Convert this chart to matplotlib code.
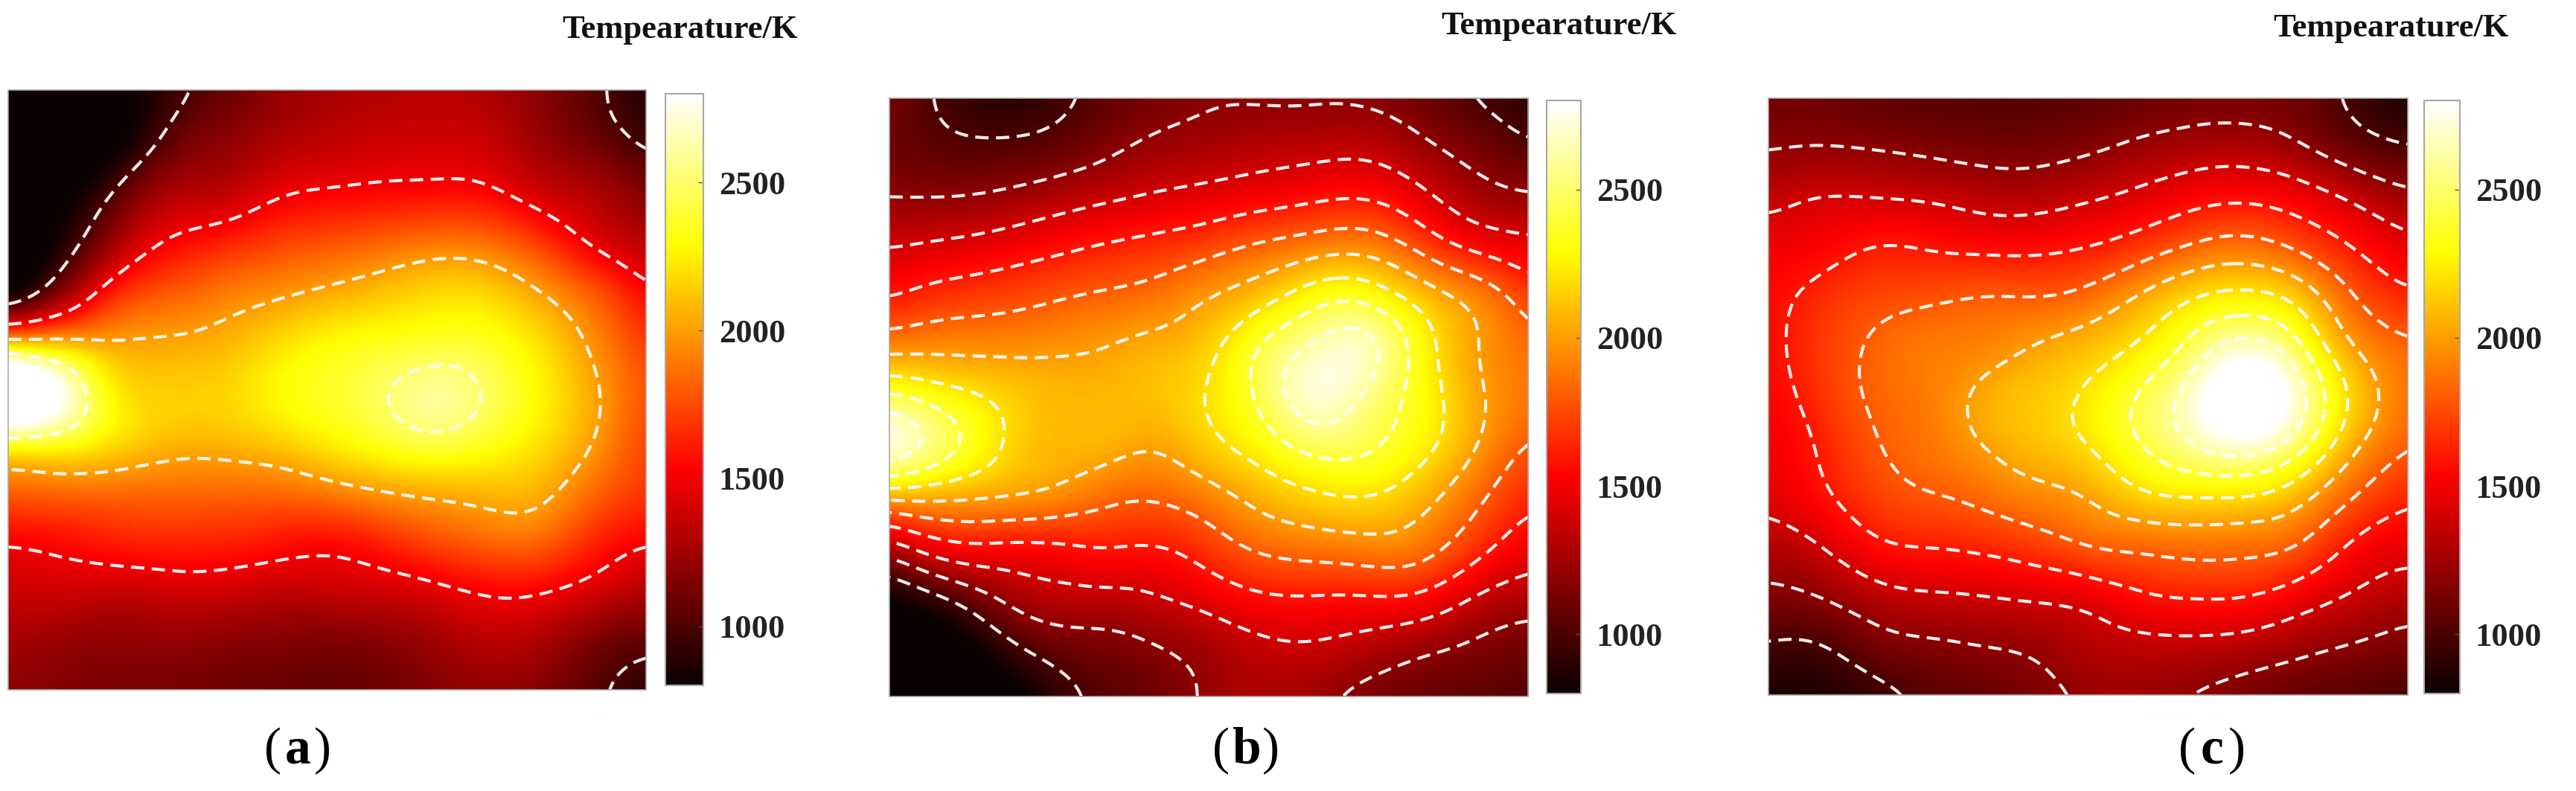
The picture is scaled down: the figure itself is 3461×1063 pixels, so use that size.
import numpy as np
import matplotlib
matplotlib.use("Agg")
import matplotlib.pyplot as plt
import matplotlib.tri as mtri

W, H = 3462, 1063

# Temperature readings (K), top row first, left to right
temp_a = [
    [750, 750, 750, 930, 1060, 1200, 1260, 1300, 1310, 1290, 1180, 1040, 870],
    [750, 750, 750, 1050, 1190, 1280, 1340, 1380, 1390, 1370, 1230, 1100, 950],
    [750, 750, 1000, 1280, 1320, 1455, 1505, 1530, 1540, 1525, 1380, 1300, 1130],
    [700, 850, 1240, 1510, 1600, 1700, 1760, 1810, 1870, 1850, 1690, 1450, 1310],
    [700, 1150, 1620, 1780, 1880, 1950, 2020, 2100, 2170, 2160, 2000, 1790, 1510],
    [2000, 2020, 2000, 2020, 2060, 2170, 2280, 2330, 2370, 2350, 2200, 1960, 1680],
    [3500, 2850, 2230, 2150, 2160, 2280, 2370, 2480, 2610, 2490, 2280, 2040, 1760],
    [2440, 2400, 2220, 2100, 2090, 2150, 2260, 2370, 2470, 2370, 2220, 2010, 1720],
    [1830, 1860, 1860, 1855, 1850, 1855, 1925, 2010, 2060, 2090, 2070, 1860, 1690],
    [1520, 1560, 1630, 1650, 1640, 1600, 1560, 1640, 1760, 1845, 1855, 1650, 1520],
    [1370, 1400, 1370, 1400, 1400, 1360, 1370, 1400, 1450, 1530, 1525, 1430, 1300],
    [1270, 1230, 1200, 1220, 1190, 1170, 1150, 1180, 1250, 1330, 1300, 1150, 1060],
    [1190, 1160, 1130, 1120, 1100, 1090, 1070, 1100, 1160, 1210, 1150, 1040, 880],
]
temp_b = [
    [1130, 970, 880, 930, 1050, 1120, 1180, 1170, 1170, 1160, 1090, 990, 880],
    [1100, 1040, 1030, 1060, 1150, 1240, 1275, 1320, 1340, 1350, 1240, 1130, 1020],
    [1200, 1200, 1230, 1300, 1370, 1425, 1470, 1520, 1570, 1590, 1450, 1280, 1220],
    [1400, 1440, 1490, 1555, 1620, 1670, 1740, 1840, 1920, 1940, 1750, 1560, 1460],
    [1590, 1685, 1725, 1780, 1830, 1880, 2000, 2130, 2330, 2350, 2120, 1950, 1700],
    [1935, 1955, 1955, 1970, 2000, 2060, 2150, 2430, 2650, 2680, 2300, 2010, 1850],
    [2450, 2300, 2180, 2090, 2080, 2110, 2210, 2450, 2740, 2560, 2310, 2040, 1880],
    [2780, 2500, 2230, 2080, 2070, 2010, 2150, 2290, 2470, 2430, 2270, 2010, 1770],
    [2040, 2040, 2010, 1970, 1860, 1820, 1920, 2070, 2170, 2200, 2070, 1850, 1640],
    [1300, 1540, 1560, 1560, 1610, 1590, 1700, 1840, 1890, 1930, 1890, 1680, 1480],
    [800, 990, 1210, 1340, 1350, 1390, 1480, 1580, 1590, 1590, 1570, 1390, 1300],
    [700, 700, 900, 1080, 1130, 1190, 1270, 1360, 1380, 1320, 1240, 1170, 1100],
    [700, 700, 700, 880, 1040, 1100, 1230, 1280, 1240, 1130, 1080, 1050, 1030],
]
temp_c = [
    [1100, 1100, 1050, 1030, 1020, 1020, 1040, 1080, 1110, 1110, 1090, 960, 850],
    [1190, 1205, 1190, 1160, 1130, 1130, 1170, 1240, 1290, 1300, 1215, 1080, 1005],
    [1340, 1410, 1400, 1380, 1330, 1320, 1380, 1450, 1540, 1570, 1500, 1370, 1240],
    [1500, 1530, 1610, 1590, 1560, 1560, 1600, 1700, 1830, 1880, 1760, 1590, 1450],
    [1540, 1660, 1740, 1770, 1810, 1800, 1860, 2030, 2200, 2260, 2130, 1800, 1630],
    [1550, 1700, 1830, 1900, 1920, 2010, 2100, 2230, 2480, 2700, 2420, 1990, 1830],
    [1520, 1680, 1830, 1900, 2040, 2130, 2230, 2430, 2730, 3050, 2680, 2150, 1860],
    [1490, 1620, 1790, 1880, 2000, 2100, 2200, 2400, 2600, 2720, 2460, 2030, 1800],
    [1450, 1570, 1720, 1790, 1850, 1940, 2010, 2170, 2210, 2200, 2060, 1800, 1630],
    [1300, 1400, 1570, 1610, 1640, 1710, 1810, 1840, 1870, 1860, 1790, 1560, 1470],
    [1160, 1210, 1330, 1380, 1400, 1430, 1470, 1580, 1620, 1610, 1500, 1380, 1300],
    [990, 990, 1120, 1170, 1200, 1230, 1310, 1345, 1350, 1320, 1250, 1190, 1130],
    [860, 860, 930, 1030, 1070, 1140, 1220, 1230, 1185, 1120, 1060, 1020, 980],
]

levels_a = [1000, 1500, 2000, 2500]
levels_bc = [1000, 1200, 1400, 1600, 1800, 2000, 2200, 2400, 2600]
cbar_ticks = [1000, 1500, 2000, 2500]
t_min, t_max = 800, 2800

# pixel boxes: x0, x1, y0, y1
panels = [
    dict(z=temp_a, lv=levels_a, map=(11, 868, 121, 927), bar=(894, 945, 126, 921),
         title=(755, 40), lab="a", lab_x=400),
    dict(z=temp_b, lv=levels_bc, map=(1195, 2053, 132, 936), bar=(2078, 2124, 135, 932),
         title=(1936, 35), lab="b", lab_x=1674),
    dict(z=temp_c, lv=levels_bc, map=(2376, 3235, 132, 934), bar=(3257, 3305, 135, 932),
         title=(3054, 38), lab="c", lab_x=2972),
]

SERIF = "Liberation Serif"
EDGE = "#a8a8a8"


def rect(x0, x1, y0, y1):
    return [x0 / W, 1 - y1 / H, (x1 - x0) / W, (y1 - y0) / H]


def smooth(z, sigma=7):
    z = np.array(z, dtype=float)
    ny, nx = z.shape
    gx, gy = np.meshgrid(np.linspace(0, 1, nx), np.linspace(0, 1, ny))
    tri = mtri.Triangulation(gx.ravel(), gy.ravel())
    interp = mtri.CubicTriInterpolator(tri, z.ravel(), kind="min_E")
    fx, fy = np.meshgrid(np.linspace(0, 1, 300), np.linspace(0, 1, 300))
    fz = np.ma.filled(interp(fx, fy), np.nan)
    # light blur takes out the wiggles of the hand readings
    r = 3 * sigma
    k = np.exp(-0.5 * (np.arange(-r, r + 1) / sigma) ** 2)
    k /= k.sum()
    pad = np.pad(fz, r, mode="edge")
    pad = np.apply_along_axis(lambda v: np.convolve(v, k, mode="same"), 0, pad)
    pad = np.apply_along_axis(lambda v: np.convolve(v, k, mode="same"), 1, pad)
    return fx, fy, pad[r:-r, r:-r]


fig = plt.figure(figsize=(W / 100, H / 100), dpi=100, facecolor="white")

for p in panels:
    ax = fig.add_axes(rect(*p["map"]))
    fx, fy, fz = smooth(p["z"])
    im = ax.imshow(fz, cmap="hot", vmin=t_min, vmax=t_max, extent=(0, 1, 1, 0),
                   aspect="auto", interpolation="bilinear")
    ax.contour(fx, fy, fz, levels=p["lv"], colors="white", linewidths=3.0,
               linestyles=[(0, (4.3, 2.4))], alpha=0.92)
    ax.set_xticks([])
    ax.set_yticks([])
    for s in ax.spines.values():
        s.set_color(EDGE)
        s.set_linewidth(1.2)

    cax = fig.add_axes(rect(*p["bar"]))
    cb = fig.colorbar(im, cax=cax, ticks=cbar_ticks)
    cb.outline.set_edgecolor(EDGE)
    cb.outline.set_linewidth(1.5)
    cax.tick_params(length=5, width=1, direction="in", color="#555555", pad=15)
    for t in cax.get_yticklabels():
        t.set_fontfamily(SERIF)
        t.set_fontweight("bold")
        t.set_fontsize(32)
        t.set_color("#222222")

    fig.text(p["title"][0] / W, 1 - p["title"][1] / H, "Tempearature/K", family=SERIF,
             fontweight="bold", fontsize=32, va="center", ha="left", color="#111111")

    # label with plain parens and a bold letter
    y_lab = 1 - 1009 / H
    fig.text((p["lab_x"] - 22) / W, y_lab, "(", family=SERIF, fontsize=50, va="center", ha="right")
    fig.text(p["lab_x"] / W, y_lab, p["lab"], family=SERIF, fontsize=50,
             fontweight="bold", va="center", ha="center")
    fig.text((p["lab_x"] + 22) / W, y_lab, ")", family=SERIF, fontsize=50, va="center", ha="left")

fig.savefig("out.png", dpi=100, facecolor="white")
